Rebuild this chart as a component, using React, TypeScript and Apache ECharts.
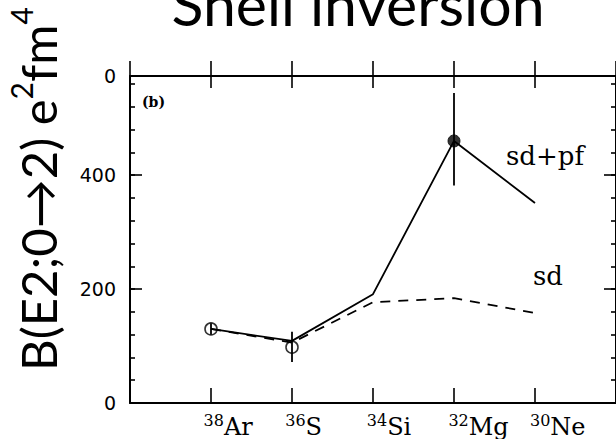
import React, { useEffect, useRef } from 'react';
import * as echarts from 'echarts';

// Nuclei along the x axis (mass number as superscript, element symbol)
const masses = ['38', '36', '34', '32', '30'];
const elements = ['Ar', 'S', 'Si', 'Mg', 'Ne'];

// Shell-model B(E2) curves (e^2 fm^4)
const sdpf = [130, 109, 191, 460, 351];
const sdOnly = [130, 106, 177, 184, 158];

// Experimental points
const expIndex = [0, 1, 3];
const expValue = [130, 98, 460];
const expLow = [120, 72, 382];
const expHigh = [140, 125, 544];
const expFilled = [false, false, true];

// Axis labels
const yLabels = [0, 200, 400];
const topPanelLabels = ['0'];
const Y_MAX = 574;

export default function App() {
  const ref = useRef<HTMLDivElement>(null);
  useEffect(() => {
    const chart = echarts.init(ref.current!, null, { renderer: 'svg' });
    const serif = 'DejaVu Serif';
    const sans = 'DejaVu Sans';
    const black = '#000';
    const g0 = { left: 130, top: 76, width: 489.6, height: 327 };
    const g1 = { left: 122, top: 76, width: 489.6, height: 327 };
    const baseX = {
      type: 'value', min: -1, max: 5, interval: 1,
      splitLine: { show: false },
    };
    const baseY = { type: 'value', min: 0, max: Y_MAX, splitLine: { show: false } };

    const option: any = {
      animation: false,
      backgroundColor: '#fff',
      grid: [g0, g1],
      xAxis: [
        {
          ...baseX, gridIndex: 0, position: 'bottom',
          axisLine: { show: true, onZero: false, lineStyle: { color: black, width: 2 } },
          axisTick: { show: true, inside: true, length: 15, lineStyle: { color: black, width: 1.6 } },
          axisLabel: { show: false },
        },
        {
          ...baseX, gridIndex: 0, position: 'top',
          axisLine: { show: true, onZero: false, lineStyle: { color: black, width: 2 } },
          axisTick: { show: true, inside: true, length: 12, lineStyle: { color: black, width: 1.6 } },
          axisLabel: { show: false },
        },
        {
          ...baseX, gridIndex: 0, position: 'top',
          axisLine: { show: false, onZero: false },
          axisTick: { show: true, inside: false, length: 15, lineStyle: { color: black, width: 1.6 } },
          axisLabel: { show: false },
        },
        {
          ...baseX, gridIndex: 1, position: 'bottom',
          axisLine: { show: false, onZero: false },
          axisTick: { show: false },
          axisLabel: {
            show: true, align: 'left', margin: 9.5,
            formatter: (v: number) => {
              const i = Math.round(v);
              if (Math.abs(v - i) > 1e-6 || i < 0 || i >= masses.length) return '';
              return `{s|${masses[i]}}{e|${elements[i]}}`;
            },
            rich: {
              s: { fontFamily: serif, fontSize: 16, lineHeight: 10, verticalAlign: 'top', color: black },
              e: { fontFamily: serif, fontSize: 24, lineHeight: 26, verticalAlign: 'bottom', color: black },
            },
          },
        },
      ],
      yAxis: [
        {
          ...baseY, gridIndex: 0, position: 'left', interval: 200,
          axisLine: { show: true, onZero: false, lineStyle: { color: black, width: 2 } },
          axisTick: { show: true, inside: true, length: 12, lineStyle: { color: black, width: 1.6 } },
          axisLabel: {
            show: true, margin: 14, color: black, fontFamily: sans, fontSize: 19,
            formatter: (v: number) => (yLabels.includes(v) ? String(v) : ''),
          },
        },
        {
          ...baseY, gridIndex: 0, position: 'left', interval: 40,
          axisLine: { show: false, onZero: false },
          axisTick: { show: true, inside: true, length: 5, lineStyle: { color: black, width: 1.6 } },
          axisLabel: { show: false },
        },
        {
          ...baseY, gridIndex: 0, position: 'right', interval: 40,
          axisLine: { show: true, onZero: false, lineStyle: { color: black, width: 2 } },
          axisTick: { show: true, inside: true, length: 5, lineStyle: { color: black, width: 1.6 } },
          axisLabel: { show: false },
        },
        {
          ...baseY, gridIndex: 0, position: 'right', interval: 200,
          axisLine: { show: false, onZero: false },
          axisTick: { show: true, inside: true, length: 12, lineStyle: { color: black, width: 1.6 } },
          axisLabel: { show: false },
        },
        {
          type: 'value', gridIndex: 0, position: 'left', inverse: true, min: 0, max: 1, interval: 1,
          splitLine: { show: false },
          axisLine: { show: false, onZero: false },
          axisTick: { show: false },
          axisLabel: {
            show: true, margin: 14, color: black, fontFamily: sans, fontSize: 19,
            formatter: (v: number) => (v === 0 ? topPanelLabels[0] : ''),
          },
        },
        { type: 'value', gridIndex: 1, show: false, min: 0, max: Y_MAX, axisLine: { onZero: false } },
      ],
      series: [
        {
          name: 'sd+pf', type: 'line', xAxisIndex: 0, yAxisIndex: 0,
          data: sdpf.map((v, i) => [i, v]),
          symbol: 'none',
          lineStyle: { color: black, width: 1.8, type: 'solid' },
          z: 3,
        },
        {
          name: 'sd', type: 'line', xAxisIndex: 0, yAxisIndex: 0,
          data: sdOnly.map((v, i) => [i, v]),
          symbol: 'none',
          lineStyle: { color: black, width: 1.8, type: [10, 8] },
          z: 3,
        },
        {
          name: 'exp-err', type: 'custom', xAxisIndex: 0, yAxisIndex: 0,
          data: expIndex.map((x, k) => [x, expLow[k], expHigh[k]]),
          encode: { x: 0, y: [1, 2] },
          renderItem: (params: any, api: any) => {
            const x = api.value(0);
            const lo = api.coord([x, api.value(1)]);
            const hi = api.coord([x, api.value(2)]);
            return {
              type: 'line',
              shape: { x1: lo[0], y1: lo[1], x2: hi[0], y2: hi[1] },
              style: { stroke: black, lineWidth: 1.8 },
            };
          },
          z: 4,
        },
        {
          name: 'exp', type: 'scatter', xAxisIndex: 0, yAxisIndex: 0,
          data: expIndex.map((x, k) => ({
            value: [x, expValue[k]],
            itemStyle: expFilled[k]
              ? { color: black, borderColor: black, borderWidth: 1 }
              : { color: 'rgba(0,0,0,0)', borderColor: black, borderWidth: 1.6 },
          })),
          symbol: 'circle',
          symbolSize: 12,
          z: 5,
        },
      ],
      graphic: [
        {
          type: 'text', x: 358, y: 3,
          style: {
            text: 'Shell inversion', fontFamily: 'Lato', fontSize: 59, fill: black,
            align: 'center', verticalAlign: 'middle', textAlign: 'center', textVerticalAlign: 'middle',
          },
        },
        {
          type: 'text', x: 34, y: 371, rotation: Math.PI / 2,
          style: {
            text: '{n|B(E2;0\u21922) e}{s|2}{n|fm}{s|4}',
            fill: black,
            align: 'left', verticalAlign: 'middle', textAlign: 'left', textVerticalAlign: 'middle',
            rich: {
              n: { fontFamily: 'Lato', fontSize: 49, lineHeight: 56, verticalAlign: 'bottom', fill: black },
              s: { fontFamily: 'Lato', fontSize: 30, lineHeight: 44, verticalAlign: 'top', fill: black },
            },
          },
        },
        {
          type: 'text', x: 142, y: 102,
          style: {
            text: '(b)', fontFamily: serif, fontSize: 14, fontWeight: 'bold', fill: black,
            align: 'left', verticalAlign: 'middle', textAlign: 'left', textVerticalAlign: 'middle',
          },
        },
        {
          type: 'text', x: 506, y: 156,
          style: {
            text: 'sd+pf', fontFamily: serif, fontSize: 26, fill: black,
            align: 'left', verticalAlign: 'middle', textAlign: 'left', textVerticalAlign: 'middle',
          },
        },
        {
          type: 'text', x: 533, y: 276,
          style: {
            text: 'sd', fontFamily: serif, fontSize: 26, fill: black,
            align: 'left', verticalAlign: 'middle', textAlign: 'left', textVerticalAlign: 'middle',
          },
        },
      ],
    };
    chart.setOption(option);
    return () => chart.dispose();
  }, []);
  return (
    <div
      ref={ref}
      style={{ position: 'absolute', left: 0, top: 0, width: 616, height: 439, background: '#fff' }}
    />
  );
}
